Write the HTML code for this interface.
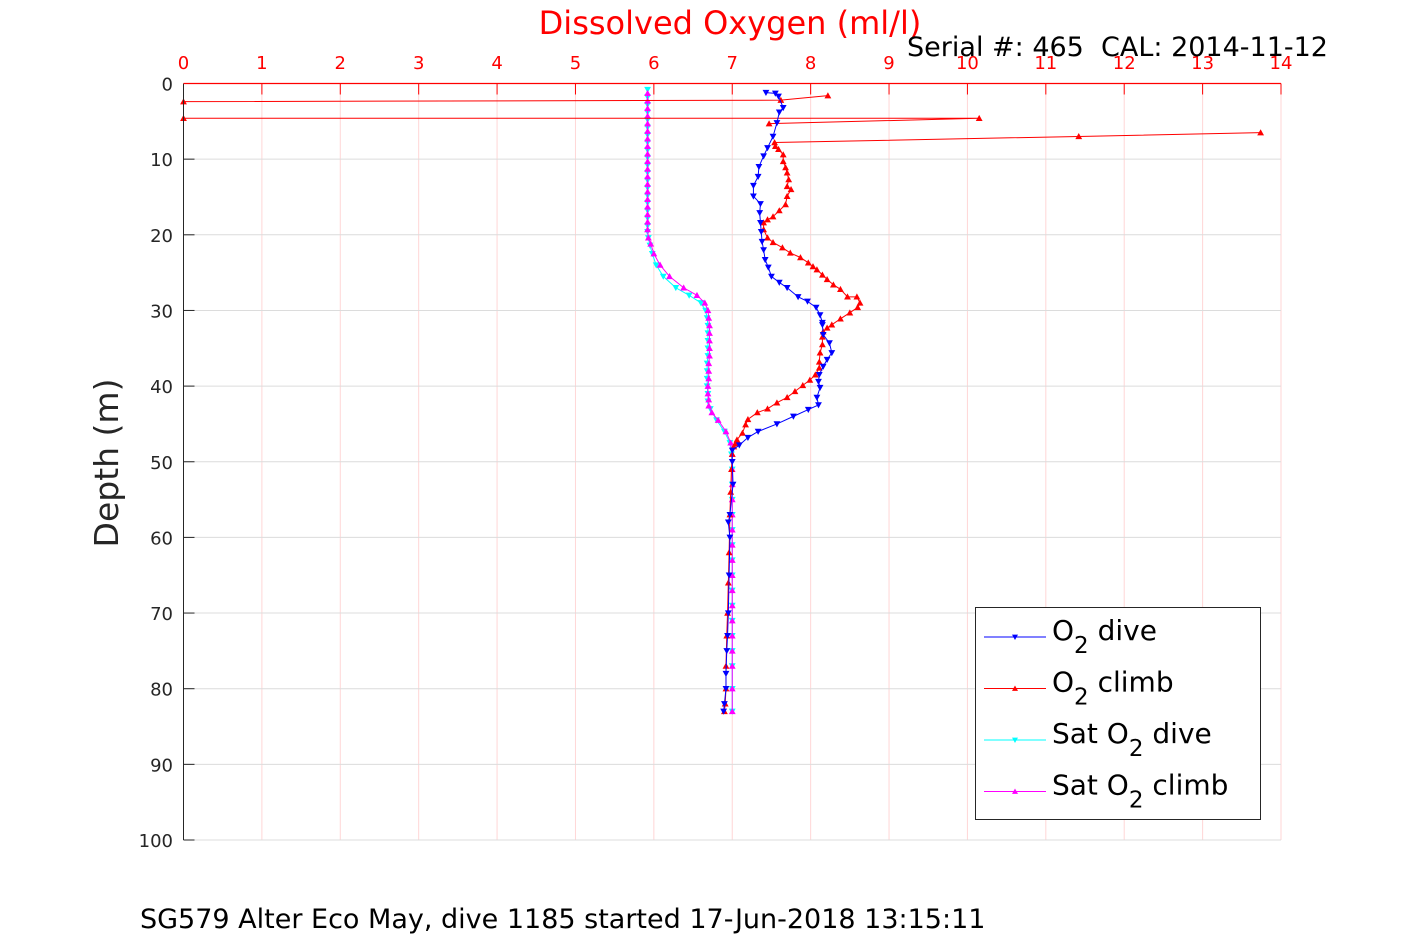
<!DOCTYPE html>
<html><head><meta charset="utf-8">
<style>
body{margin:0;background:#fff;}
svg{display:block;font-family:"DejaVu Sans","Liberation Sans",sans-serif;}
</style></head>
<body>
<svg id="chart" width="1417" height="945" viewBox="0 0 1417 945" xmlns="http://www.w3.org/2000/svg">
<rect width="1417" height="945" fill="#fff"/>
<g id="grid"></g>
<g id="series"></g>
<g id="axes"></g>
<text x="730" y="34" font-size="32" fill="#ff0000" text-anchor="middle">Dissolved Oxygen (ml/l)</text>
<text x="1328" y="56" font-size="27" fill="#000" text-anchor="end" xml:space="preserve">Serial #: 465  CAL: 2014-11-12</text>
<text transform="translate(118,463) rotate(-90)" font-size="33" fill="#262626" text-anchor="middle">Depth (m)</text>
<text x="140" y="928" font-size="27" fill="#000">SG579 Alter Eco May, dive 1185 started 17-Jun-2018 13:15:11</text>
<g>
<rect x="975.5" y="607.5" width="285" height="212" fill="#fff" stroke="#262626" stroke-width="1"/>
<g id="legend-items"></g>
</g>
</svg>
<script>
const NS="http://www.w3.org/2000/svg";
const xTicks=[0,1,2,3,4,5,6,7,8,9,10,11,12,13,14];
const yTicks=[0,10,20,30,40,50,60,70,80,90,100];
const legendLabels=[["O","2"," dive"],["O","2"," climb"],["Sat O","2"," dive"],["Sat O","2"," climb"]];
const o2DiveVal=[7.43,7.55,7.59,7.65,7.6,7.57,7.52,7.45,7.4,7.34,7.33,7.27,7.27,7.36,7.35,7.36,7.37,7.38,7.4,7.42,7.46,7.5,7.6,7.7,7.84,7.96,8.07,8.12,8.15,8.15,8.16,8.24,8.27,8.21,8.16,8.11,8.1,8.12,8.08,8.1,7.97,7.78,7.57,7.33,7.2,7.09,7.0,7.0,7.01,6.97,6.95,6.97,6.96,6.95,6.94,6.93,6.92,6.92,6.9,6.89];
const o2DiveDepth=[1.2,1.3,1.7,3.2,3.8,5.2,7,8.5,9.6,11,12.3,13.5,14.9,15.9,17.1,18.4,19.6,20.9,22,23.3,24.3,25.5,26.3,27,28.2,28.8,29.6,30.6,31.6,31.9,33.2,34.3,35.6,36.5,37.4,38.5,39.4,40.2,41.5,42.5,43.1,44,45,46,46.8,47.8,48.5,50,53,57,58,60,65,70,73,75,78,80,82,83];
const o2ClimbVal=[6.9,6.91,6.92,6.92,6.93,6.94,6.95,6.96,6.97,6.98,6.99,7.0,7.02,7.04,7.06,7.13,7.17,7.2,7.32,7.45,7.57,7.7,7.8,7.9,7.99,8.06,8.11,8.11,8.12,8.15,8.15,8.16,8.21,8.27,8.38,8.5,8.6,8.63,8.59,8.47,8.38,8.29,8.21,8.15,8.08,8.03,7.97,7.87,7.74,7.64,7.52,7.45,7.4,7.4,7.45,7.52,7.6,7.68,7.7,7.75,7.7,7.72,7.7,7.68,7.65,7.65,7.59,7.55,7.54,11.42,13.74,null,7.47,10.15,0,0,7.62,8.22];
const o2ClimbDepth=[83,82,80,77,73,70,66,62,57,54,51,49,48,47.6,47.1,46.2,45.1,44.4,43.5,43,42.2,41.5,40.7,39.9,39.2,38.5,37.6,36.8,35.6,34.5,33.5,32.8,32.3,31.9,31.1,30.3,29.6,29,28.2,28.2,27.2,26.6,25.9,25.3,24.6,24.2,23.7,23,22.4,21.7,21,20.4,19.3,18.4,18,17.6,16.8,16,14.9,14,13.6,12.7,11.8,11.1,10.3,9.4,8.7,8.3,7.8,7.0,6.5,null,5.3,4.6,4.6,2.4,2.2,1.6];
const satDiveVal=[5.92,5.92,5.92,5.92,5.92,5.92,5.92,5.92,5.92,5.92,5.92,5.92,5.92,5.92,5.92,5.92,5.92,5.92,5.92,5.92,5.93,5.95,5.98,6.03,6.12,6.28,6.45,6.6,6.66,6.68,6.69,6.69,6.69,6.69,6.69,6.68,6.68,6.68,6.68,6.69,6.69,6.72,6.8,6.9,6.97,6.99,7.0,7.0,7.0,7.0,7.0,7.0,7.0,7.0,7.0,7.0,7.0,7.0,7.0,7.0,7.0,7.0];
const satDiveDepth=[0.8,1.8,2.8,3.8,4.8,5.8,6.8,7.8,8.8,9.8,10.8,11.8,12.8,13.8,14.8,15.8,16.8,17.8,18.8,19.6,20.4,21.4,22.5,24,25.5,27,28,29,30,31,32,33,34,35,36,37,38,39,40,41,42,43,44.5,46,47.5,49,51,53,55,57,59,61,63,65,67,69,71,73,75,77,80,83];
const satClimbVal=[5.92,5.92,5.92,5.92,5.92,5.92,5.92,5.92,5.92,5.92,5.92,5.92,5.92,5.92,5.92,5.92,5.92,5.92,5.92,5.93,5.96,6.0,6.08,6.2,6.38,6.55,6.65,6.69,6.7,6.71,6.71,6.71,6.71,6.71,6.7,6.7,6.7,6.69,6.69,6.7,6.7,6.74,6.82,6.92,6.98,7.0,7.0,7.0,7.0,7.0,7.0,7.0,7.0,7.0,7.0,7.0,7.0,7.0,7.0,7.0,7.0,7.0];
const satClimbDepth=[1.3,2.3,3.3,4.3,5.3,6.3,7.3,8.3,9.3,10.3,11.3,12.3,13.3,14.3,15.3,16.3,17.3,18.3,19.3,20.4,21.2,22.5,24,25.5,27,28,29,30,31,32,33,34,35,36,37,38,39,40,41,41.8,42.6,43.5,44.5,46,47.5,49,51,53,55,57,59,61,63,65,67,69,71,73,75,77,80,83];

const X0=183.5,X1=1281,Y0=83.5,Y1=840;
const xs=v=>X0+(v-0)/(14-0)*(X1-X0);
const ys=d=>Y0+(d-0)/(100-0)*(Y1-Y0);
function mk(tag,attrs,parent){const e=document.createElementNS(NS,tag);for(const k in attrs)e.setAttribute(k,attrs[k]);parent.appendChild(e);return e;}
const grid=document.getElementById('grid'),axes=document.getElementById('axes'),series=document.getElementById('series');
xTicks.forEach(t=>{
  const l=mk('line',{x1:xs(t),x2:xs(t),y1:Y0,y2:Y1,stroke:'#ffd6d6','stroke-width':1},grid);
  
  
  const tk=mk('line',{x1:xs(t),x2:xs(t),y1:Y0,y2:Y0+11,stroke:'#ff0000','stroke-width':1},axes);
  
  
  const tx=mk('text',{x:xs(t),y:69,'font-size':18,fill:'#ff0000','text-anchor':'middle'},axes);
  tx.textContent=t;
  
  
});
yTicks.forEach(t=>{
  const l=mk('line',{x1:X0,x2:X1,y1:ys(t),y2:ys(t),stroke:'#dcdcdc','stroke-width':1},grid);
  
  
  const tk=mk('line',{x1:X0,x2:X0+11,y1:ys(t),y2:ys(t),stroke:'#262626','stroke-width':1},axes);
  
  
  const tx=mk('text',{x:173,y:ys(t)+7,'font-size':18,fill:'#262626','text-anchor':'end'},axes);
  tx.textContent=t;
  
  
});
const la=mk('line',{x1:X0,x2:X0,y1:Y0,y2:Y1,stroke:'#262626','stroke-width':1},axes);


const ta=mk('line',{x1:X0,x2:X1,y1:Y0,y2:Y0,stroke:'#ff0000','stroke-width':1.2},axes);



function tri(x,y,up,c,parent,s){
  const p=up?`${x},${y-s} ${x-s},${y+s*0.8} ${x+s},${y+s*0.8}`:`${x},${y+s} ${x-s},${y-s*0.8} ${x+s},${y-s*0.8}`;
  return mk('polygon',{points:p,fill:c},parent);
}
function drawSeries(vals,deps,color,up,name){
  const g=mk('g',{},series);
  
  
  let segs=[[]];
  vals.forEach((v,i)=>{ if(v===null||deps[i]===null){segs.push([]);} else segs[segs.length-1].push([xs(v),ys(deps[i])]); });
  segs.forEach(s=>{ if(s.length<2)return;
    const pl=mk('polyline',{points:s.map(p=>p.join(',')).join(' '),fill:'none',stroke:color,'stroke-width':1},g);
    
    
  });
  vals.forEach((v,i)=>{ if(v===null||deps[i]===null)return;
    const m=tri(xs(v),ys(deps[i]),up,color,g,3.4);
    
    
  });
}
drawSeries(satDiveVal,satDiveDepth,'#00ffff',false,'sat-o2-dive');
drawSeries(satClimbVal,satClimbDepth,'#ff00ff',true,'sat-o2-climb');
drawSeries(o2ClimbVal,o2ClimbDepth,'#ff0000',true,'o2-climb');
drawSeries(o2DiveVal,o2DiveDepth,'#0000ff',false,'o2-dive');

const colors=['#0000ff','#ff0000','#00ffff','#ff00ff'];
const ups=[false,true,false,true];
const lg=document.getElementById('legend-items');
legendLabels.forEach((lab,i)=>{
  const y=637+i*51.5;
  const g=mk('g',{},lg);
  
  
  mk('line',{x1:984,x2:1046,y1:y,y2:y,stroke:colors[i],'stroke-width':1},g);
  tri(1015,y,ups[i],colors[i],g,3);
  const t=mk('text',{x:1052,y:y+3,'font-size':28,fill:'#000'},g);
  const a=mk('tspan',{},t);a.textContent=lab[0];
  const b=mk('tspan',{dy:13,'font-size':23},t);b.textContent=lab[1];
  const c=mk('tspan',{dy:-13},t);c.textContent=lab[2];
});
</script>
</body></html>
